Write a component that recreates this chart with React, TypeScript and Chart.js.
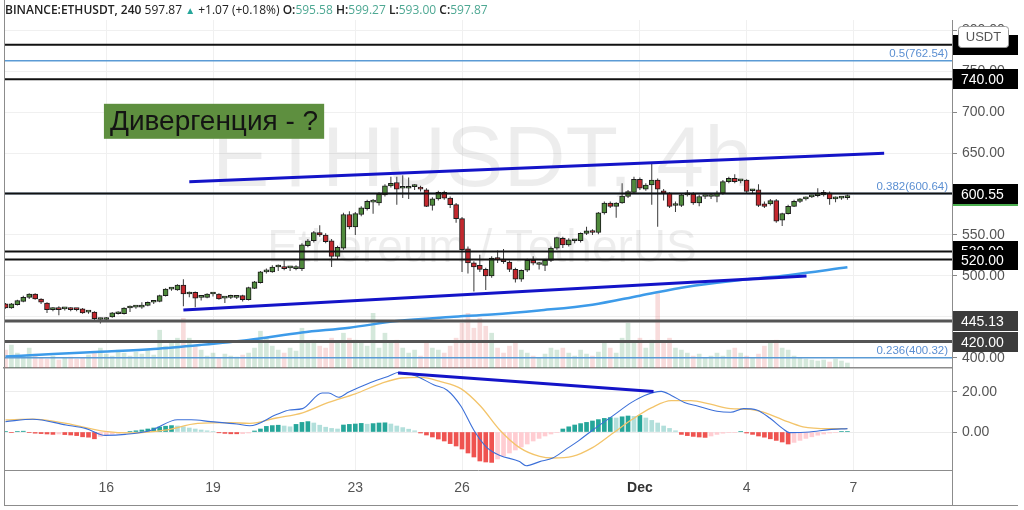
import React, { useEffect, useRef } from 'react';
import { Chart, registerables } from 'chart.js';

Chart.register(...registerables);

// ---------------- header text ----------------
const symbolTitle = 'BINANCE:ETHUSDT, 240';
const lastCloseText = '597.87';
const changeText = '+1.07 (+0.18%)';
const ohlcKeys = ['O', 'H', 'L', 'C'];
const ohlcVals = ['595.58', '599.27', '593.00', '597.87'];
const watermarkTitle = 'ETHUSDT, 4h';
const watermarkSub = 'Ethereum / TetherUS';
const annotationText = 'Дивергенция - ?';

// ---------------- candles (4h, index 0 = Nov 13 04:00) ----------------
const opens = [
  466, 461, 465, 469, 474, 478, 472, 467, 459, 460,
  460, 461, 460, 460, 456, 456, 447, 447, 450, 454,
  454, 461, 462, 462, 464, 468, 469, 476, 484, 483,
  489, 478, 480, 474, 474, 478, 478, 473, 474, 474,
  476, 471, 485, 492, 505, 505, 511, 511, 510, 509,
  509, 537, 543, 553, 550, 543, 524, 534, 575, 560,
  575, 582, 590, 589, 599, 610, 614, 607, 607, 609,
  608, 605, 586, 594, 602, 595, 587, 570, 533, 516,
  513, 508, 500, 522, 520, 517, 508, 496, 507, 519,
  514, 513, 519, 534, 546, 538, 543, 543, 552, 555,
  553, 577, 589, 585, 589, 597, 602, 618, 606, 611,
  617, 604, 601, 586, 586, 599, 600, 589, 597, 597,
  597, 601, 615, 619, 616, 617, 604, 605, 588, 588,
  592, 568, 576, 585, 591, 594, 596.5, 598, 599, 601,
  594, 595, 595.58,
];
const highs = [
  467, 467, 471, 476, 479, 479, 473, 468, 462, 463,
  462, 462, 461, 461, 457, 457, 449, 450, 456, 457,
  462, 464, 464, 468, 469, 470, 477, 485, 486, 490,
  496, 481, 481, 476, 479, 480, 479, 475, 477, 476,
  477, 487, 494, 506, 509, 513, 514, 519, 512, 513,
  540, 545, 555, 562, 552, 545, 537, 577, 579, 578,
  585, 593, 594, 602, 612, 621, 621, 623, 620, 612,
  610, 607, 596, 604, 604, 597, 589, 572, 536, 518,
  526, 510, 524, 531, 533, 519, 510, 508, 521, 524,
  517, 520, 536, 548, 548, 546, 545, 553, 560, 557,
  578, 591, 591, 590, 613, 605, 621, 620, 613, 638,
  619, 606, 602, 591, 601, 605, 602, 599, 599, 600,
  604, 617, 621, 624, 618, 618, 606, 612, 591, 594,
  594, 577, 587, 593, 595, 597, 599, 607, 605, 603,
  597, 597, 599.27,
];
const lows = [
  460, 460, 464, 468, 472, 471, 466, 455, 457, 452,
  458, 457, 457, 454, 454, 445, 442, 446, 449, 453,
  453, 456, 460, 460, 463, 466, 468, 475, 482, 482,
  463, 474, 462, 470, 473, 475, 471, 467, 472, 472,
  469, 470, 484, 491, 503, 504, 506, 507, 506, 507,
  506, 535, 541, 548, 540, 511, 520, 532, 557, 550,
  573, 580, 576, 586, 597, 608, 587, 595, 594, 605,
  603, 584, 580, 592, 593, 583, 565, 505, 503, 481,
  505, 483, 498, 516, 515, 505, 492, 493, 505, 513,
  508, 506, 517, 532, 534, 536, 540, 541, 550, 550,
  551, 575, 583, 571, 588, 595, 600, 605, 604, 587,
  560, 592, 583, 578, 584, 597, 587, 585, 594, 594,
  590, 599, 613, 613, 613, 601, 600, 584, 583, 586,
  565, 561, 575, 584, 589, 592, 595, 596, 597, 587,
  590, 593, 593.0,
];
const closes = [
  461, 466, 470, 474, 478, 472, 468, 459, 459.5, 459,
  461, 459, 459, 455, 456, 448, 447, 449, 455, 456,
  461, 462, 462.5, 463, 468, 469, 476, 484, 484, 489,
  478, 480, 473, 474, 478, 478, 472, 473, 475, 474,
  471, 486, 493, 505, 506.5, 511, 511, 509, 510, 511,
  538, 543, 553, 550, 542, 524, 535, 575, 560, 576,
  583, 591, 590.5, 600, 610, 613, 606, 607, 607.5, 609,
  606, 585, 594, 602, 595, 587, 570, 532, 516, 511,
  508, 500, 522, 520, 517.5, 508, 496, 507, 519, 515.5,
  514.5, 519, 534, 547, 538, 544, 543, 552, 555, 553,
  577, 589, 585, 589, 597.5, 603, 618, 607, 611, 617,
  606, 601, 585, 586.5, 599, 601, 589, 597, 597, 597.5,
  601, 615, 619, 615, 616, 603, 604, 586, 585, 592,
  567, 576, 585, 591, 594, 596, 597, 599, 602, 594,
  595, 596, 597.87,
];
const volumes = [
  18, 23, 15, 12, 20, 14,
  10, 9, 12, 8, 10, 11, 9, 10, 13,
  16,
  20, 14, 12, 18, 15, 12, 16, 14, 19, 13,
  38, 22, 25, 30, 50, 30, 22,
  18, 12, 15, 10, 14, 12, 11, 13, 15, 20,
  37, 30, 22, 18, 15, 20, 17,
  40, 25, 28, 22, 20, 30, 25, 35,
  30, 28, 25, 22, 55, 20, 35, 25, 28,
  20, 15, 18, 12, 25, 20, 18, 15, 22,
  30, 45, 55, 40, 50, 42, 35,
  20, 15, 22, 25, 18, 15, 12, 10, 14, 20,
  18, 20, 15, 12, 18, 14, 12, 16, 25, 20, 15,
  30, 45, 25, 30, 20,
  28, 75,
  25, 30, 20, 18, 15, 12, 14,
  10, 12, 15, 12, 18, 20, 15, 12, 10, 14, 22,
  25, 28, 20,
  18, 12, 10, 9, 8, 7, 8, 6, 9, 7, 5,
];

// moving average (read at sampled candles)
const maIdx = [0, 8, 16, 25, 33, 41, 50, 58, 66, 75, 82, 90, 99, 107, 115, 124, 132, 142];
const maVals = [401.8, 404.9, 407.7, 411, 416, 422, 431, 437, 445, 450, 453, 458, 465, 476, 487, 495, 501, 510.6];

// horizontal levels
const levelPrices = [782, 740, 600.55, 530, 520, 445.13, 420];
const levelLabels = ['', '740.00', '600.55', '530.00', '520.00', '445.13', '420.00'];
const levelHeavy = [false, false, false, false, false, true, true];
const fibPrices = [762.54, 600.64, 400.32];
const fibLabels = ['0.5(762.54)', '0.382(600.64)', '0.236(400.32)'];
const lastPrice = 597.87;

// trend lines (candle index, price)
const upperTrendX = [31, 148.2];
const upperTrendY = [615, 649.6];
const lowerTrendX = [30, 135.1];
const lowerTrendY = [458.5, 500];

// annotation anchor (candle index, price of top edge)
const annotX = 16.6;
const annotY = 710;

// ---------------- MACD ----------------
const macdIdx = [0, 4.6, 10.2, 13.6, 16.8, 20.2, 24.6, 29, 31.3, 34.6, 39, 41.2, 45.7, 47.9, 50.1, 53.4, 54.5, 56.2, 57.9, 61.2, 64.5, 66.4, 69, 72.3, 74.5, 76.8, 79, 81.2, 83.4, 86.7, 87.8, 90.1, 92.3, 94.5, 96.7, 99, 102.3, 105.6, 107.8, 110.6, 112.3, 114.5, 116.7, 120, 122.3, 124.5, 126.7, 128.9, 131.1, 132.2, 135.6, 138.9, 142];
const macdVals = [5.2, 6.4, 3.5, 1.7, -1.7, -1.2, 0.9, 6.1, 6.1, 5.2, 4.0, 3.1, 8.7, 11, 11.7, 19.5, 19.5, 17.4, 20, 24.3, 27.8, 29.9, 28.3, 23.5, 20.9, 13, 0.9, -7.8, -11.7, -14.8, -16.9, -14.8, -13, -8.7, -4.3, 0.9, 7.8, 14.8, 18.3, 20.3, 18.3, 14.8, 13, 10.4, 9.9, 11.7, 11, 7, 1.7, -0.3, 0, 1.2, 1.7];
const signalIdx = [0, 4.6, 10.2, 16.8, 21.3, 26.9, 32.4, 37.9, 41.2, 45.7, 50.1, 54.5, 59, 63.4, 66.8, 70.1, 73.4, 76.8, 80.1, 83.4, 86.7, 90.1, 92.3, 95.6, 99, 102.3, 105.6, 109, 112.3, 115.6, 118.9, 122.3, 125.6, 127.8, 131.1, 134.5, 138.9, 142];
const signalVals = [6.1, 6.4, 4.3, 0.3, -0.5, 0.9, 4.3, 4.7, 4.3, 7, 9.6, 14.8, 19.1, 24.3, 27, 27.3, 25.2, 21.7, 13, 0.9, -7.8, -12.2, -13, -12.2, -7.8, -0.9, 6.1, 12.2, 15.7, 15.7, 13.9, 11.7, 11.3, 9.9, 6.1, 2.6, 1.7, 1.7];
const histVals = [
  0.3, -0.3, 0.2, 0.4, -0.3,
  -0.6, -0.8, -1.0, -1.2, -1.0, -1.3, -1.5, -1.8, -2.4,
  -2.6, -3.4, -2.2, -1.5, -1.0, -0.6, -0.3, 0.2,
  0.6, 1.0, 1.5, 2.0, 2.5, 2.9, 3.2,
  3.0, 2.6, 2.0, 1.5, 1.0, 0.6, 0.3,
  -0.4, -0.7, -0.9, -0.9, -0.8, -0.5, 0.5,
  1.5, 2.8, 3.2, 3.4, 3.0, 2.6, 3.8, 4.8, 5.2, 4.5, 3.4, 2.4, 1.8, 1.5,
  3.5, 3.8, 4.0, 4.3, 3.9, 4.2, 4.5, 4.6, 4.0, 3.0, 2.2, 1.4, 0.6, -0.5,
  -1.5, -2.5, -3.5, -4.5, -5.8, -7.0, -8.5, -10.5, -12.5, -14.5, -15.0, -15.2,
  -13.5, -12, -10.5, -9, -7.5, -6, -4.5, -3.2, -2.0, -1.0, -0.3,
  1.5, 2.6, 3.5, 4.2, 4.8, 5.5, 6.2, 6.8, 7.2, 7.0, 7.6, 8.0, 7.8, 8.3,
  7.0, 5.8, 4.5, 3.0, 1.8, 0.6,
  -1.2, -1.8, -2.2, -2.5, -2.7, -2.0,
  -1.2, -0.6, -0.3, -0.2, 0.2, -0.5,
  -1.2, -2.0, -2.6, -3.4, -4.2, -5.0, -6.0,
  -5.2, -4.2, -3.2, -2.4, -1.6, -1.0, -0.5,
  -0.3, 0.2, 0.3,
];
const divergenceX = [66.2, 109.3];
const divergenceY = [29.5, 20.3];

// axes
const dateTickIdx = [17, 35, 59, 77, 107, 125, 143];
const dateTickLabels = ['16', '19', '23', '26', 'Dec', '4', '7'];
const priceTicks = [400, 450, 500, 550, 600, 650, 700, 750, 800];
const macdTicks = [0, 20];

// ---------------- styling ----------------
const FONT = '"Liberation Sans", Arial, sans-serif';
const X_MIN = -0.253;
const X_MAX = 159.64;
const PRICE_MIN = 387.8;
const PRICE_MAX = 812.2;
const MACD_MIN = -19;
const MACD_MAX = 31.5;
const UP = '#4f8a3c';
const DOWN = '#c3282e';
const TEAL = '#4ea893';
const AXIS_TEXT = '#555555';
const GRID = '#f0f0f0';
const FRAME = '#8c8c8c';
const TREND = '#1414c8';

const noScalePadding = (s: any) => {
  s.width = 66;
  s.paddingTop = 0;
  s.paddingBottom = 0;
};

const mainOverlay = {
  id: 'mainOverlay',
  beforeDatasetsDraw(chart: any) {
    const { ctx, chartArea: a } = chart;
    ctx.save();
    ctx.beginPath();
    ctx.rect(a.left, a.top, a.right - a.left, a.bottom - a.top);
    ctx.clip();
    ctx.fillStyle = 'rgba(0,0,0,0.07)';
    ctx.textAlign = 'center';
    ctx.textBaseline = 'alphabetic';
    const cx = (a.left + a.right) / 2 + 4;
    ctx.font = `86px ${FONT}`;
    ctx.fillText(watermarkTitle, cx, a.top + 166);
    ctx.font = `46px ${FONT}`;
    ctx.fillText(watermarkSub, cx, a.top + 242);
    ctx.restore();
  },
  afterDatasetsDraw(chart: any) {
    const { ctx, chartArea: a, scales } = chart;
    const xs = scales.x;
    const ys = scales.y;
    ctx.save();
    // fib labels
    ctx.font = `11.5px ${FONT}`;
    ctx.fillStyle = '#5b8fd2';
    ctx.textAlign = 'right';
    ctx.textBaseline = 'bottom';
    fibPrices.forEach((p, k) => {
      ctx.fillText(fibLabels[k], a.right - 4, ys.getPixelForValue(p) - 1);
    });
    // annotation
    ctx.font = `28px ${FONT}`;
    const w = ctx.measureText(annotationText).width;
    const bx = xs.getPixelForValue(annotX);
    const by = ys.getPixelForValue(annotY);
    ctx.fillStyle = '#5e8f3f';
    ctx.fillRect(bx, by, w + 12, 35);
    ctx.fillStyle = '#141414';
    ctx.textAlign = 'left';
    ctx.textBaseline = 'middle';
    ctx.fillText(annotationText, bx + 6, by + 18.5);
    // frame
    ctx.strokeStyle = FRAME;
    ctx.lineWidth = 1;
    ctx.beginPath();
    ctx.moveTo(a.left + 0.5, 0);
    ctx.lineTo(a.left + 0.5, a.bottom);
    ctx.stroke();
    ctx.restore();
  },
  afterDraw(chart: any) {
    const { ctx, chartArea: a, scales } = chart;
    const ys = scales.y;
    ctx.save();
    const box = (price: number, text: string, bg: string) => {
      const y = Math.round(ys.getPixelForValue(price));
      ctx.fillStyle = bg;
      ctx.fillRect(a.right + 1, y - 10, 65, 20);
      ctx.fillStyle = '#ffffff';
      ctx.font = `14px ${FONT}`;
      ctx.textAlign = 'left';
      ctx.textBaseline = 'middle';
      ctx.fillText(text, a.right + 9, y + 1);
    };
    box(lastPrice, lastPrice.toFixed(2), '#4caf50');
    levelPrices.forEach((p, k) => box(p, levelLabels[k], levelHeavy[k] ? '#3c3c3c' : '#000000'));
    // currency badge
    const ux = a.right + 6;
    const uy = a.top + 6;
    ctx.fillStyle = '#ffffff';
    ctx.strokeStyle = '#9a9a9a';
    ctx.lineWidth = 1;
    ctx.beginPath();
    (ctx as any).roundRect(ux + 0.5, uy + 0.5, 50, 21, 3);
    ctx.fill();
    ctx.stroke();
    ctx.fillStyle = '#555';
    ctx.font = `13px ${FONT}`;
    ctx.textAlign = 'center';
    ctx.textBaseline = 'middle';
    ctx.fillText('USDT', ux + 25.5, uy + 11.5);
    ctx.restore();
  },
};

const macdOverlay = {
  id: 'macdOverlay',
  afterDraw(chart: any) {
    const { ctx, chartArea: a, height, width } = chart;
    ctx.save();
    ctx.strokeStyle = FRAME;
    ctx.lineWidth = 1;
    ctx.beginPath();
    ctx.moveTo(a.left + 0.5, 0);
    ctx.lineTo(a.left + 0.5, height - 5);
    ctx.moveTo(a.right + 0.5, a.bottom);
    ctx.lineTo(a.right + 0.5, height - 5);
    ctx.moveTo(a.left, height - 4.5);
    ctx.lineTo(width - 6, height - 4.5);
    ctx.stroke();
    ctx.restore();
  },
};

function hline(y: number, color: string, width: number, order: number) {
  return {
    type: 'line',
    data: [{ x: X_MIN, y }, { x: X_MAX, y }],
    borderColor: color,
    borderWidth: width,
    pointRadius: 0,
    order,
  };
}

function mainConfig(): any {
  const isUp = closes.map((c, i) => c >= opens[i]);
  const datasets: any[] = [
    {
      type: 'bar',
      yAxisID: 'vol',
      data: volumes.map((v, i) => ({ x: i, y: v })),
      backgroundColor: volumes.map((_, i) => (isUp[i] ? 'rgba(60,150,90,0.22)' : 'rgba(220,80,80,0.2)')),
      barThickness: 4,
      grouped: false,
      order: 30,
    },
    {
      type: 'line',
      data: maIdx.map((x, k) => ({ x, y: maVals[k] })),
      borderColor: '#3d9be9',
      borderWidth: 2.5,
      pointRadius: 0,
      cubicInterpolationMode: 'monotone',
      order: 25,
    },
    ...fibPrices.map((p) => hline(p, '#5b9bd5', 1.5, 24)),
    {
      type: 'bar',
      data: lows.map((l, i) => ({ x: i, y: [l, highs[i]] })),
      backgroundColor: '#3a3a3a',
      barThickness: 1,
      inflateAmount: 0,
      grouped: false,
      order: 20,
    },
    {
      type: 'bar',
      data: opens.map((o, i) => ({ x: i, y: [o, closes[i]] })),
      backgroundColor: isUp.map((u) => (u ? UP : DOWN)),
      borderColor: '#1b1b1b',
      borderWidth: 1,
      borderSkipped: false,
      barThickness: 5,
      minBarLength: 2,
      grouped: false,
      order: 19,
    },
    ...levelPrices.map((p, k) => hline(p, levelHeavy[k] ? '#555555' : '#111111', levelHeavy[k] ? 3 : 2, 10)),
    {
      type: 'line',
      data: upperTrendX.map((x, k) => ({ x, y: upperTrendY[k] })),
      borderColor: TREND,
      borderWidth: 3,
      pointRadius: 0,
      order: 1,
    },
    {
      type: 'line',
      data: lowerTrendX.map((x, k) => ({ x, y: lowerTrendY[k] })),
      borderColor: TREND,
      borderWidth: 3,
      pointRadius: 0,
      order: 1,
    },
  ];
  return {
    type: 'bar',
    data: { datasets },
    plugins: [mainOverlay],
    options: {
      animation: false,
      responsive: false,
      events: [],
      layout: { padding: { left: 4, right: 6, top: 20, bottom: 2 } },
      plugins: { legend: { display: false }, tooltip: { enabled: false } },
      scales: {
        x: {
          type: 'linear',
          min: X_MIN,
          max: X_MAX,
          offset: false,
          afterBuildTicks: (s: any) => {
            s.ticks = dateTickIdx.map((v) => ({ value: v }));
          },
          afterFit: (s: any) => {
            s.height = 0;
            s.paddingLeft = 0;
            s.paddingRight = 0;
          },
          ticks: { display: false },
          grid: { color: GRID, drawTicks: false, offset: false },
          border: { color: FRAME, width: 1.5 },
        },
        y: {
          type: 'linear',
          position: 'right',
          min: PRICE_MIN,
          max: PRICE_MAX,
          afterBuildTicks: (s: any) => {
            s.ticks = priceTicks.map((v) => ({ value: v }));
          },
          afterFit: noScalePadding,
          ticks: {
            color: AXIS_TEXT,
            font: { size: 14, family: FONT },
            padding: 5,
            callback: (v: any) => Number(v).toFixed(2),
          },
          grid: { color: GRID, tickColor: '#888', tickLength: 5 },
          border: { color: FRAME },
        },
        vol: { type: 'linear', display: false, min: 0, max: 350 },
      },
    },
  };
}

function macdConfig(): any {
  const histColors = histVals.map((v, i) => {
    const prev = i > 0 ? histVals[i - 1] : 0;
    if (v >= 0) return v >= prev ? '#26a69a' : '#b2dfdb';
    return v <= prev ? '#ef5350' : '#ffcdd2';
  });
  const datasets: any[] = [
    {
      type: 'bar',
      data: histVals.map((v, i) => ({ x: i, y: v })),
      backgroundColor: histColors,
      barThickness: 4,
      grouped: false,
      order: 10,
    },
    {
      type: 'line',
      data: signalIdx.map((x, k) => ({ x, y: signalVals[k] })),
      borderColor: '#f3c46a',
      borderWidth: 1.3,
      pointRadius: 0,
      cubicInterpolationMode: 'monotone',
      order: 5,
    },
    {
      type: 'line',
      data: macdIdx.map((x, k) => ({ x, y: macdVals[k] })),
      borderColor: '#3b6fd8',
      borderWidth: 1.1,
      pointRadius: 0,
      cubicInterpolationMode: 'monotone',
      order: 4,
    },
    {
      type: 'line',
      data: divergenceX.map((x, k) => ({ x, y: divergenceY[k] })),
      borderColor: TREND,
      borderWidth: 3,
      pointRadius: 0,
      order: 1,
    },
  ];
  return {
    type: 'bar',
    data: { datasets },
    plugins: [macdOverlay],
    options: {
      animation: false,
      responsive: false,
      events: [],
      layout: { padding: { left: 4, right: 6, top: 1, bottom: 5 } },
      plugins: { legend: { display: false }, tooltip: { enabled: false } },
      scales: {
        x: {
          type: 'linear',
          min: X_MIN,
          max: X_MAX,
          offset: false,
          afterBuildTicks: (s: any) => {
            s.ticks = dateTickIdx.map((v) => ({ value: v }));
          },
          afterFit: (s: any) => {
            s.height = 35;
            s.paddingLeft = 0;
            s.paddingRight = 0;
          },
          ticks: {
            autoSkip: false,
            maxRotation: 0,
            padding: 10,
            color: (c: any) => (c.tick && c.tick.label === 'Dec' ? '#333' : AXIS_TEXT),
            font: (c: any) => ({
              size: 14,
              family: FONT,
              weight: c.tick && c.tick.label === 'Dec' ? 'bold' : 'normal',
            }),
            callback: (_v: any, idx: number) => dateTickLabels[idx],
          },
          grid: { color: GRID, drawTicks: false, offset: false },
          border: { color: FRAME },
        },
        y: {
          type: 'linear',
          position: 'right',
          min: MACD_MIN,
          max: MACD_MAX,
          afterBuildTicks: (s: any) => {
            s.ticks = macdTicks.map((v) => ({ value: v }));
          },
          afterFit: noScalePadding,
          ticks: {
            color: AXIS_TEXT,
            font: { size: 14, family: FONT },
            padding: 5,
            callback: (v: any) => Number(v).toFixed(2),
          },
          grid: { color: '#ececec', tickColor: '#888', tickLength: 5 },
          border: { color: FRAME },
        },
      },
    },
  };
}

export default function App() {
  const mainRef = useRef<HTMLCanvasElement>(null);
  const macdRef = useRef<HTMLCanvasElement>(null);

  useEffect(() => {
    Chart.defaults.font.family = FONT;
    const main = new Chart(mainRef.current as HTMLCanvasElement, mainConfig());
    const macd = new Chart(macdRef.current as HTMLCanvasElement, macdConfig());
    return () => {
      main.destroy();
      macd.destroy();
    };
  }, []);

  return (
    <div
      style={{
        position: 'fixed',
        left: 0,
        top: 0,
        width: 1024,
        height: 510,
        background: '#ffffff',
        overflow: 'hidden',
      }}
    >
      <canvas
        ref={mainRef}
        width={1024}
        height={370}
        style={{ position: 'absolute', left: 0, top: 0, width: 1024, height: 370 }}
      />
      <canvas
        ref={macdRef}
        width={1024}
        height={142}
        style={{ position: 'absolute', left: 0, top: 368, width: 1024, height: 142 }}
      />
      <div
        style={{
          position: 'absolute',
          left: 5,
          top: 2,
          fontFamily: '"Open Sans", sans-serif',
          fontSize: 12,
          lineHeight: '16px',
          color: '#222',
          whiteSpace: 'nowrap',
        }}
      >
        <span style={{ fontWeight: 600 }}>{symbolTitle}</span>{' '}
        <span>{lastCloseText}</span> <span style={{ color: '#26a69a', fontSize: 10 }}>▲</span>{' '}
        <span>{changeText}</span>{' '}
        {ohlcKeys.map((k, i) => (
          <span key={k}>
            <span style={{ fontWeight: 600 }}>{k}:</span>
            <span style={{ color: TEAL }}>{ohlcVals[i]}</span>{' '}
          </span>
        ))}
      </div>
    </div>
  );
}
